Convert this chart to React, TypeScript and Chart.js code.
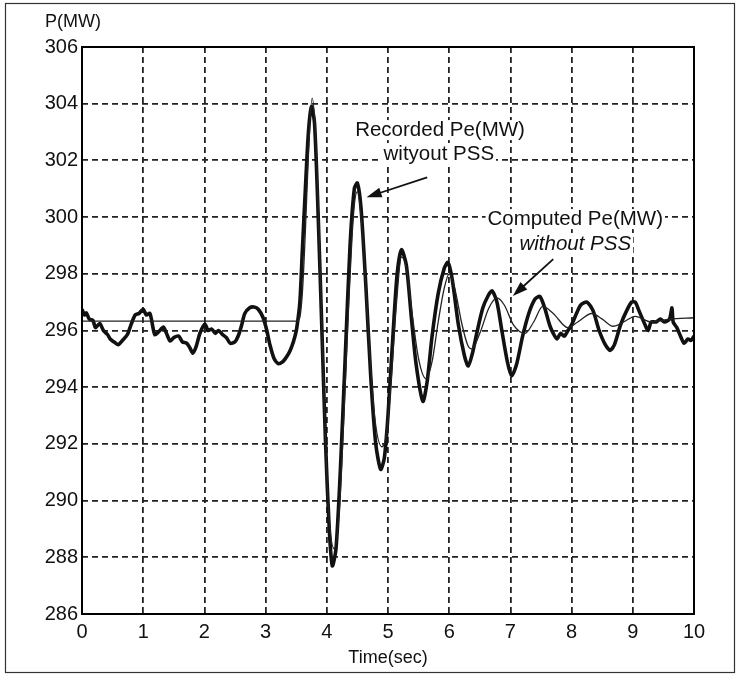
import React, { useEffect, useRef } from "react";
import { Chart, registerables } from "chart.js";

Chart.register(...registerables);

const timeTicks = [0, 1, 2, 3, 4, 5, 6, 7, 8, 9, 10];
const powerTicks = [286, 288, 290, 292, 294, 296, 298, 300, 302, 304, 306];

const recordedTime = [
  0, 0.04, 0.07, 0.12, 0.18, 0.22, 0.29, 0.35, 0.42, 0.46, 0.52, 0.59, 0.66, 0.74, 0.8, 0.87, 0.93, 1.0,
  1.05, 1.11, 1.16, 1.19, 1.25, 1.33, 1.38, 1.44, 1.5, 1.58, 1.64, 1.71, 1.76, 1.81, 1.86, 1.93, 2.01,
  2.06, 2.12, 2.18, 2.23, 2.3, 2.36, 2.42, 2.5, 2.56, 2.61, 2.66, 2.74, 2.81, 2.88, 2.96, 3.02, 3.07,
  3.14, 3.21, 3.28, 3.32, 3.38, 3.43, 3.48, 3.51, 3.56, 3.6, 3.65, 3.7, 3.75, 3.8, 3.86, 3.92, 3.98,
  4.04, 4.09, 4.15, 4.22, 4.3, 4.38, 4.45, 4.5, 4.56, 4.64, 4.72, 4.8, 4.88, 4.94, 5.0, 5.08, 5.15,
  5.22, 5.3, 5.38, 5.46, 5.57, 5.64, 5.72, 5.82, 5.92, 5.98, 6.05, 6.15, 6.25, 6.31, 6.38, 6.46, 6.55,
  6.63, 6.7, 6.78, 6.86, 6.95, 7.02, 7.1, 7.2, 7.3, 7.4, 7.48, 7.56, 7.64, 7.7, 7.76, 7.82, 7.88, 7.94,
  8.0, 8.08, 8.15, 8.25, 8.35, 8.45, 8.55, 8.63, 8.7, 8.8, 8.9, 8.98, 9.04, 9.1, 9.2, 9.25, 9.3, 9.38,
  9.45, 9.52, 9.6, 9.64, 9.66, 9.72, 9.78, 9.84, 9.9, 9.95, 10,
];
const recordedPower = [
  296.75, 296.55, 296.62, 296.4, 296.35, 296.1, 296.25, 296.0, 295.85, 295.7, 295.6, 295.5, 295.65, 295.85, 296.2, 296.55, 296.6, 296.75,
  296.55, 296.6, 296.1, 295.85, 295.95, 296.12, 295.9, 295.63, 295.75, 295.8, 295.6, 295.55, 295.4, 295.2, 295.4, 295.92, 296.22,
  296.0, 296.05, 295.9, 296.0, 295.85, 295.75, 295.55, 295.6, 295.85, 296.2, 296.6, 296.8, 296.83, 296.75, 296.45, 296.0, 295.5,
  295.0, 294.83, 294.9, 295.0, 295.2, 295.45, 295.8, 296.1, 297.0, 298.8, 301.0, 303.0, 303.9, 303.3, 300.0, 296.0, 292.0,
  289.0, 287.7, 288.3, 291.0, 295.0, 299.0, 301.0, 301.2, 300.3, 297.5, 294.3, 292.0, 291.1, 291.5, 293.0, 295.8, 298.0,
  298.85, 298.3, 296.5, 294.8, 293.5, 294.2, 295.8, 297.3, 298.2, 298.4, 297.8, 296.2, 295.1, 294.75, 295.2, 296.0, 296.8,
  297.2, 297.4, 297.0, 296.0, 294.9, 294.4, 294.8, 295.8, 296.6, 297.1, 297.2, 296.8, 296.2, 295.9, 295.7, 295.9, 295.8, 296.0,
  296.2, 296.6, 296.9, 297.0, 296.7, 296.0, 295.5, 295.3, 295.5, 296.2, 296.7, 297.0, 297.0, 296.7, 296.2, 296.0, 296.3, 296.3,
  296.4, 296.3, 296.4, 296.8, 296.3, 296.1, 295.8, 295.55, 295.7, 295.65, 295.8,
];

const computedTime = [
  0, 1, 2, 3, 3.5, 3.55, 3.6, 3.65, 3.7, 3.76, 3.82, 3.88, 3.95, 4.02, 4.12, 4.2, 4.28, 4.36, 4.44, 4.5,
  4.58, 4.68, 4.78, 4.9, 4.98, 5.06, 5.14, 5.22, 5.3, 5.4, 5.5, 5.62, 5.72, 5.82, 5.92, 6.0, 6.1, 6.2,
  6.3, 6.37, 6.5, 6.65, 6.78, 6.9, 7.05, 7.24, 7.38, 7.53, 7.7, 7.94, 8.1, 8.33, 8.5, 8.68, 8.85, 9.04,
  9.3, 9.6, 10,
];
const computedPower = [
  296.33, 296.33, 296.33, 296.33, 296.33, 296.4, 297.3, 299.5, 302.2, 304.2, 302.8, 299.0, 294.0, 290.0, 288.3, 289.5, 293.0, 297.0, 300.2, 300.9,
  299.5, 296.0, 293.0, 291.9, 292.4, 294.5, 297.0, 298.6, 298.2, 296.5, 295.0, 294.3, 294.9, 296.3, 297.5, 298.0, 297.4, 296.3,
  295.5, 295.35, 295.9, 296.8, 297.15, 296.9, 296.2, 295.9, 296.3, 296.85, 296.6, 296.1, 296.3, 296.6, 296.4, 296.15, 296.3, 296.5,
  296.3, 296.4, 296.45,
];

const noteRecorded = ["Recorded Pe(MW)", "wityout PSS"];
const noteComputed = ["Computed Pe(MW)", "without PSS"];

const FONT = "'Liberation Sans', Arial, Helvetica, sans-serif";

export default function App() {
  const ref = useRef<HTMLCanvasElement | null>(null);

  useEffect(() => {
    const canvas = ref.current;
    if (!canvas) return;

    const toXY = (ts: number[], ps: number[]) => ts.map((t, i) => ({ x: t, y: ps[i] }));

    const decor = {
      id: "decor",
      afterDraw(chart: any) {
        const { ctx, chartArea, scales } = chart;
        const xs = scales.x;
        const ys = scales.y;
        const X = (v: number) => xs.getPixelForValue(v);
        const Y = (v: number) => ys.getPixelForValue(v);
        ctx.save();
        ctx.setLineDash([]);
        ctx.strokeStyle = "#000";
        ctx.lineWidth = 2;
        ctx.strokeRect(chartArea.left, chartArea.top, chartArea.right - chartArea.left, chartArea.bottom - chartArea.top);
        ctx.lineWidth = 1.2;
        ctx.strokeStyle = "#333";
        ctx.strokeRect(5.5, 3.5, 729, 669);
        ctx.fillStyle = "#111";
        ctx.font = `18px ${FONT}`;
        ctx.textAlign = "left";
        ctx.textBaseline = "middle";
        ctx.fillText("P(MW)", 45, 22);

        const text = (s: string, t: number, p: number, italic = false) => {
          ctx.font = `${italic ? "italic " : ""}20.5px ${FONT}`;
          ctx.textAlign = "center";
          ctx.textBaseline = "middle";
          const w = ctx.measureText(s).width;
          ctx.fillStyle = "#fff";
          ctx.fillRect(X(t) - w / 2 - 2, Y(p) - 10, w + 4, 20);
          ctx.fillStyle = "#111";
          ctx.fillText(s, X(t), Y(p));
        };
        text(noteRecorded[0], 5.85, 303.07);
        text(noteRecorded[1], 5.83, 302.2);
        text(noteComputed[0], 8.06, 299.93);
        text(noteComputed[1], 8.06, 299.05, true);

        const arrow = (t0: number, p0: number, t1: number, p1: number) => {
          const x0 = X(t0), y0 = Y(p0), x1 = X(t1), y1 = Y(p1);
          const a = Math.atan2(y1 - y0, x1 - x0);
          ctx.strokeStyle = "#111";
          ctx.fillStyle = "#111";
          ctx.lineWidth = 1.8;
          ctx.beginPath();
          ctx.moveTo(x0, y0);
          ctx.lineTo(x1 - 8 * Math.cos(a), y1 - 8 * Math.sin(a));
          ctx.stroke();
          ctx.beginPath();
          ctx.moveTo(x1, y1);
          ctx.lineTo(x1 - 15 * Math.cos(a) + 5 * Math.sin(a), y1 - 15 * Math.sin(a) - 5 * Math.cos(a));
          ctx.lineTo(x1 - 15 * Math.cos(a) - 5 * Math.sin(a), y1 - 15 * Math.sin(a) + 5 * Math.cos(a));
          ctx.closePath();
          ctx.fill();
        };
        arrow(5.64, 301.4, 4.65, 300.7);
        arrow(7.7, 298.52, 7.04, 297.22);
        ctx.restore();
      },
    };

    const chart = new Chart(canvas, {
      type: "line",
      data: {
        datasets: [
          {
            label: "Recorded Pe(MW) without PSS",
            data: toXY(recordedTime, recordedPower),
            borderColor: "#111",
            borderWidth: 3.6,
            pointRadius: 0,
            tension: 0.25,
            order: 2,
          },
          {
            label: "Computed Pe(MW) without PSS",
            data: toXY(computedTime, computedPower),
            borderColor: "#222",
            borderWidth: 1.3,
            pointRadius: 0,
            cubicInterpolationMode: "monotone",
            order: 1,
          },
        ],
      },
      options: {
        responsive: false,
        animation: false,
        events: [],
        layout: { padding: { left: 0, right: 45, top: 47, bottom: 0 } },
        plugins: { legend: { display: false }, tooltip: { enabled: false } },
        scales: {
          x: {
            type: "linear",
            min: 0,
            max: 10,
            afterBuildTicks: (s: any) => {
              s.ticks = timeTicks.map((v) => ({ value: v }));
            },
            afterFit: (s: any) => {
              s.height = 63;
            },
            ticks: {
              color: "#111",
              padding: 6,
              font: { family: FONT, size: 20 },
            },
            grid: { color: "#222", lineWidth: 1.8, drawTicks: false },
            border: { display: false, dash: [6, 4] },
            title: {
              display: true,
              text: "Time(sec)",
              color: "#111",
              font: { family: FONT, size: 18 },
              padding: { top: 0, bottom: 8 },
            },
          },
          y: {
            type: "linear",
            min: 286,
            max: 306,
            afterBuildTicks: (s: any) => {
              s.ticks = powerTicks.map((v) => ({ value: v }));
            },
            afterFit: (s: any) => {
              s.width = 82;
            },
            ticks: {
              color: "#111",
              padding: 4,
              font: { family: FONT, size: 20 },
            },
            grid: { color: "#222", lineWidth: 1.8, drawTicks: false },
            border: { display: false, dash: [6, 4] },
          },
        },
      },
      plugins: [decor],
    } as any);

    return () => chart.destroy();
  }, []);

  return (
    <div style={{ position: "absolute", left: 0, top: 0, width: 739, height: 677, background: "#fff" }}>
      <canvas ref={ref} width={739} height={677} style={{ display: "block" }} />
    </div>
  );
}
